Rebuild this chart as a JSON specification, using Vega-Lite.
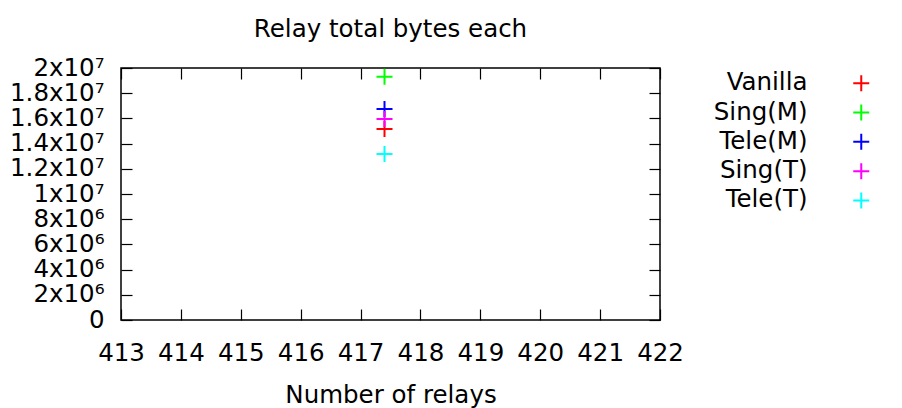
{
  "$schema": "https://vega.github.io/schema/vega-lite/v6.json",
  "width": 539,
  "height": 252,
  "autosize": {"type": "none"},
  "padding": {"left": 121, "top": 68, "right": 242, "bottom": 88},
  "background": "white",
  "title": {"text": "Relay total bytes each", "font": "DejaVu Sans", "fontSize": 24.5, "fontWeight": "normal", "color": "black", "offset": 13},
  "config": {
    "view": {"stroke": "black", "strokeWidth": 1.5},
    "font": "DejaVu Sans",
    "axis": {"domain": false, "grid": false, "tickColor": "black", "tickWidth": 1.2, "tickSize": -11, "labelColor": "black", "labelFont": "DejaVu Sans", "labelFontSize": 24.5, "labelOverlap": false, "labelFlush": false, "titleFont": "DejaVu Sans", "titleFontSize": 24.5, "titleFontWeight": "normal", "titleColor": "black"}
  },
  "data": {"values": [
    {"relays": 417.4, "bytes": 15160000, "series": "Vanilla"},
    {"relays": 417.4, "bytes": 19310000, "series": "Sing(M)"},
    {"relays": 417.4, "bytes": 16750000, "series": "Tele(M)"},
    {"relays": 417.4, "bytes": 15950000, "series": "Sing(T)"},
    {"relays": 417.4, "bytes": 13170000, "series": "Tele(T)"}
  ]},
  "layer": [
    {
      "mark": {"type": "point", "shape": "M-1,0H1M0,-1V1", "filled": false, "size": 256, "strokeWidth": 2, "opacity": 1},
      "encoding": {
        "x": {"field": "relays", "type": "quantitative", "scale": {"domain": [413, 422], "nice": false, "zero": false},
              "axis": {"orient": "bottom", "values": [413,414,415,416,417,418,419,420,421,422], "title": "Number of relays", "labelPadding": 32, "titlePadding": 19}},
        "y": {"field": "bytes", "type": "quantitative", "scale": {"domain": [0, 20000000], "nice": false},
              "axis": {"orient": "left", "values": [0,2000000,4000000,6000000,8000000,10000000,12000000,14000000,16000000,18000000,20000000], "title": null, "labelPadding": 28,
                       "labelExpr": "datum.value == 0 ? '0' : (datum.value < 10000000 ? format(datum.value/1000000, '~g') + 'x10⁶' : format(datum.value/10000000, '~g') + 'x10⁷')"}},
        "color": {"field": "series", "type": "nominal", "sort": ["Vanilla", "Sing(M)", "Tele(M)", "Sing(T)", "Tele(T)"],
                  "scale": {"domain": ["Vanilla", "Sing(M)", "Tele(M)", "Sing(T)", "Tele(T)"], "range": ["#ff0000", "#00ff00", "#0000ff", "#ff00ff", "#00ffff"]},
                  "legend": {"orient": "none", "legendX": 728, "legendY": 3, "title": null, "padding": 0, "symbolType": "M-1,0H1M0,-1V1", "symbolSize": 256, "symbolStrokeWidth": 2, "symbolFillColor": "transparent",
                             "labelAlign": "right", "labelOffset": -66, "labelFontSize": 24.5, "labelFont": "DejaVu Sans", "labelColor": "black", "rowPadding": 3.3, "labelLimit": 300}}
      }
    },
    {
      "mark": {"type": "point", "opacity": 0},
      "encoding": {
        "x": {"field": "relays", "type": "quantitative", "axis": {"orient": "top", "values": [413,414,415,416,417,418,419,420,421,422], "labels": false, "title": null}},
        "y": {"field": "bytes", "type": "quantitative", "axis": {"orient": "right", "values": [0,2000000,4000000,6000000,8000000,10000000,12000000,14000000,16000000,18000000,20000000], "labels": false, "title": null}}
      }
    }
  ],
  "resolve": {"axis": {"x": "independent", "y": "independent"}}
}
